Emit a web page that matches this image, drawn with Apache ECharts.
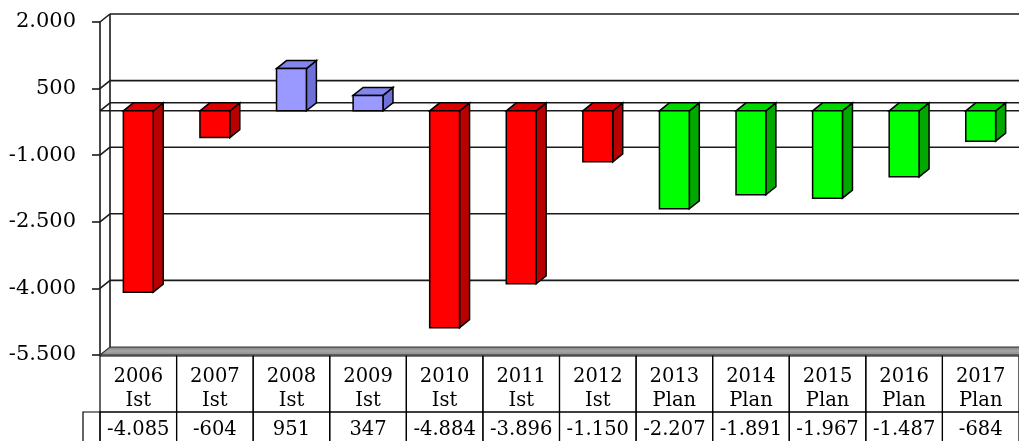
<!DOCTYPE html>
<html>
<head>
<meta charset="utf-8">
<script src="https://cdn.jsdelivr.net/npm/echarts@6/dist/echarts.min.js"></script>
<style>
html,body{margin:0;padding:0;background:#fff;}
#chart{width:1019px;height:441px;}
</style>
</head>
<body>
<div id="chart"></div>
<script>
const categories = ['2006','2007','2008','2009','2010','2011','2012','2013','2014','2015','2016','2017'];
const phases = ['Ist','Ist','Ist','Ist','Ist','Ist','Ist','Plan','Plan','Plan','Plan','Plan'];
const values = [-4085, -604, 951, 347, -4884, -3896, -1150, -2207, -1891, -1967, -1487, -684];
const yTicks = [2000, 500, -1000, -2500, -4000, -5500];

const FONT = 'DejaVu Serif';
const DX = 10, DY = 8;

function fmt(n) {
  const s = Math.abs(Math.round(n)).toString().replace(/\B(?=(\d{3})+(?!\d))/g, '.');
  return (n < 0 ? '-' : '') + s;
}

function palette(i, v) {
  if (phases[i] === 'Plan') return { front: '#00FF00', side: '#00A800', top: '#00D800' };
  if (v >= 0) return { front: '#9999FF', side: '#6F6FD8', top: '#8585EE' };
  return { front: '#FF0000', side: '#B80000', top: '#DD0000' };
}

function txt(x, y, text, size) {
  return {
    type: 'text',
    style: {
      x: x, y: y, text: text,
      font: size + 'px "' + FONT + '"',
      fill: '#000',
      align: 'center', verticalAlign: 'middle',
      textAlign: 'center', textVerticalAlign: 'middle'
    }
  };
}

function renderWalls(params, api) {
  const v = api.value(0);
  const cs = params.coordSys;
  const L = cs.x, R = cs.x + cs.width + 20;
  const y = api.coord([0, v])[1];
  const stroke = { stroke: '#1a1a1a', lineWidth: 1.6, fill: null };
  const children = [];
  const bottomV = Math.min.apply(null, yTicks);
  const topV = Math.max.apply(null, yTicks);
  if (v === bottomV) {
    children.push({
      type: 'polygon',
      shape: { points: [[L, y], [L + DX, y - DY], [R + DX, y - DY], [R, y]] },
      style: {
        fill: { type: 'linear', x: 0, y: 0, x2: 0, y2: 1, colorStops: [
          { offset: 0, color: '#7a7a7a' }, { offset: 0.5, color: '#a8a8a8' }, { offset: 1, color: '#858585' }] },
        stroke: '#333', lineWidth: 1.2
      }
    });
  } else {
    children.push({ type: 'line', shape: { x1: L + DX, y1: y - DY, x2: R + DX, y2: y - DY }, style: stroke });
    children.push({ type: 'line', shape: { x1: L, y1: y, x2: L + DX, y2: y - DY }, style: stroke });
    if (v === 0) {
      children.push({ type: 'line', shape: { x1: L, y1: y, x2: R, y2: y }, style: stroke });
    }
    if (v === topV) {
      const yb = api.coord([0, bottomV])[1];
      children.push({ type: 'line', shape: { x1: L + DX, y1: y - DY, x2: L + DX, y2: yb - DY }, style: stroke });
    }
  }
  return { type: 'group', children: children };
}

function renderBars(params, api) {
  const i = api.value(0);
  const v = api.value(1);
  const cs = params.coordSys;
  const p0 = api.coord([i, 0]);
  const pv = api.coord([i, v]);
  const band = api.size([1, 0])[0];
  const w = band * 0.39;
  const x1 = p0[0] - w / 2, x2 = p0[0] + w / 2;
  const yt = Math.min(p0[1], pv[1]), yb = Math.max(p0[1], pv[1]);
  const c = palette(i, v);
  const edge = { stroke: '#000', lineWidth: 1.5 };
  const children = [
    { type: 'polygon', shape: { points: [[x2, yt], [x2 + DX, yt - DY], [x2 + DX, yb - DY], [x2, yb]] },
      style: Object.assign({ fill: c.side }, edge) },
    { type: 'polygon', shape: { points: [[x1, yt], [x1 + DX, yt - DY], [x2 + DX, yt - DY], [x2, yt]] },
      style: Object.assign({ fill: c.top }, edge) },
    { type: 'rect', shape: { x: x1, y: yt, width: w, height: yb - yt },
      style: Object.assign({ fill: c.front }, edge) }
  ];
  // data table cells
  const B = cs.y + cs.height + 1;
  const cl = p0[0] - band / 2;
  const r1 = 56, r2 = 40;
  const line = { stroke: '#000', lineWidth: 1.2, fill: null };
  children.push({ type: 'rect', shape: { x: cl, y: B, width: band, height: r1 }, style: line });
  children.push({ type: 'rect', shape: { x: cl, y: B + r1, width: band, height: r2 }, style: line });
  children.push(txt(p0[0], B + 21, categories[i], 19.5));
  children.push(txt(p0[0], B + 45, phases[i], 19.5));
  children.push(txt(p0[0], B + r1 + 18, fmt(v), 19.5));
  if (i === 0) {
    children.push({ type: 'rect', shape: { x: cl - 17, y: B + r1, width: 17, height: r2 }, style: line });
  }
  return { type: 'group', children: children };
}

const chart = echarts.init(document.getElementById('chart'), null, { renderer: 'canvas' });
chart.setOption({
  animation: false,
  backgroundColor: '#fff',
  grid: { left: 100, top: 22, width: 924, height: 333, containLabel: false },
  xAxis: {
    type: 'category', data: categories, show: false,
    axisLine: { show: false }, axisTick: { show: false }, axisLabel: { show: false }
  },
  yAxis: {
    type: 'value', min: -5500, max: 2000, interval: 1500,
    axisLine: { show: true, lineStyle: { color: '#1a1a1a', width: 1.6 } },
    axisTick: { show: true, length: 8, lineStyle: { color: '#1a1a1a', width: 1.6 } },
    splitLine: { show: false },
    axisLabel: {
      margin: 24, color: '#000', fontFamily: FONT, fontSize: 21,
      padding: [6, 0, 0, 0],
      formatter: function (v) { return fmt(v); }
    }
  },
  series: [
    {
      type: 'custom', name: 'walls', clip: false, z: 1,
      renderItem: renderWalls,
      data: yTicks.concat([0]).map(function (v) { return [v]; }),
      encode: { y: 0 }
    },
    {
      type: 'custom', name: 'bars', clip: false, z: 3,
      renderItem: renderBars,
      data: values.map(function (v, i) { return [i, v]; }),
      encode: { x: 0, y: 1 }
    }
  ]
});
</script>
</body>
</html>
